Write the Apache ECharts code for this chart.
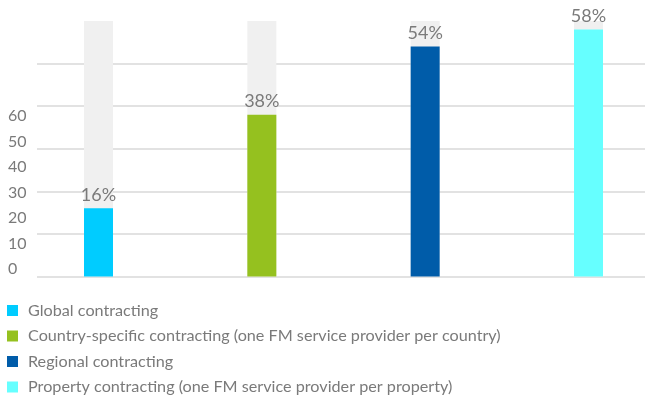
<!DOCTYPE html>
<html>
<head>
<meta charset="utf-8">
<script src="https://cdn.jsdelivr.net/npm/echarts@6/dist/echarts.min.js"></script>
<style>
  html, body { margin: 0; padding: 0; background: #ffffff; }
  #chart { width: 645px; height: 396px; }
</style>
</head>
<body>
<div id="chart"></div>
<script>
// Contracting models and the share of respondents using each
const categories = [
  'Global contracting',
  'Country-specific contracting (one FM service provider per country)',
  'Regional contracting',
  'Property contracting (one FM service provider per property)'
];
const shares = [16, 38, 54, 58];
const barColors = ['#00ccff', '#95c11f', '#005ca9', '#66ffff'];
const trackMax = 60;
const axisTicks = [0, 10, 20, 30, 40, 50, 60];

const FONT = 'Lato';
const TEXT = '#7a7a7a';

// Grey track behind every bar, full scale height
const trackSeries = {
  type: 'bar',
  name: 'track',
  xAxisIndex: 0,
  yAxisIndex: 0,
  data: categories.map(() => trackMax),
  barWidth: 29,
  barGap: '-100%',
  itemStyle: { color: '#f0f0f0' },
  silent: true,
  z: 1
};

// One series per contracting model so each gets its own legend entry
const valueSeries = categories.map((name, i) => ({
  type: 'bar',
  name: name,
  xAxisIndex: 0,
  yAxisIndex: 0,
  data: categories.map((_, j) => (j === i ? shares[i] : '-')),
  barWidth: 29,
  barGap: '-100%',
  itemStyle: { color: barColors[i] },
  label: {
    show: true,
    position: 'top',
    distance: 4,
    formatter: '{c}%',
    color: TEXT,
    fontFamily: FONT,
    fontSize: 18
  },
  z: 2
}));

const chart = echarts.init(document.getElementById('chart'), null, { renderer: 'canvas' });
chart.setOption({
  animation: false,
  backgroundColor: '#ffffff',
  textStyle: { fontFamily: FONT },
  grid: [
    // bars, centred on the category ticks
    { left: 98.5, top: 21, width: 490, height: 255.5, containLabel: false },
    // horizontal rules
    { left: 37, top: 63.4, right: 0, height: 213.1, containLabel: false },
    // tick label column
    { left: 8, top: 116, width: 20, height: 153, containLabel: false }
  ],
  xAxis: [
    { gridIndex: 0, type: 'category', data: categories, boundaryGap: false, show: false },
    { gridIndex: 1, type: 'value', min: 0, max: 1, show: false },
    { gridIndex: 2, type: 'value', min: 0, max: 1, show: false }
  ],
  yAxis: [
    { gridIndex: 0, type: 'value', min: 0, max: trackMax, show: false },
    {
      gridIndex: 1, type: 'value', min: 0, max: 50, interval: 10,
      axisLine: { show: false }, axisTick: { show: false }, axisLabel: { show: false },
      splitLine: { show: true, lineStyle: { color: '#d9d9d9', width: 1.5 } }
    },
    {
      gridIndex: 2, type: 'value', min: axisTicks[0], max: axisTicks[axisTicks.length - 1], interval: 10,
      axisLine: { show: false }, axisTick: { show: false }, splitLine: { show: false },
      axisLabel: {
        show: true, margin: 0, align: 'left',
        color: TEXT, fontFamily: FONT, fontSize: 16
      }
    }
  ],
  legend: {
    orient: 'vertical',
    left: 7,
    top: 302.5,
    padding: 0,
    itemWidth: 11,
    itemHeight: 11,
    itemGap: 9.5,
    icon: 'rect',
    data: categories,
    textStyle: { color: TEXT, fontFamily: FONT, fontSize: 16.2, lineHeight: 16, padding: [0, 0, 0, 5] },
    selectedMode: false
  },
  series: [trackSeries].concat(valueSeries)
});
</script>
</body>
</html>
